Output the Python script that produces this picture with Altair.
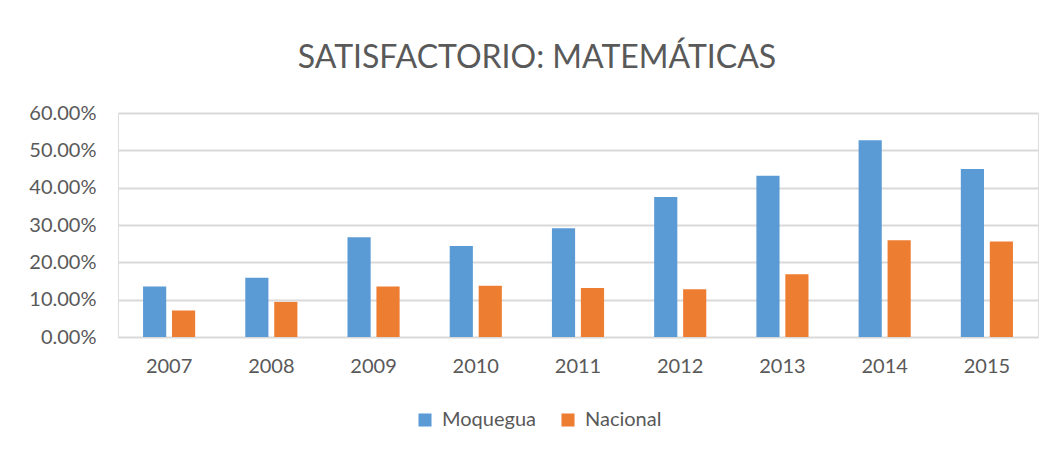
import altair as alt
import pandas as pd

years = ["2007", "2008", "2009", "2010", "2011", "2012", "2013", "2014", "2015"]
moquegua = [0.135, 0.159, 0.267, 0.244, 0.291, 0.375, 0.432, 0.527, 0.450]
nacional = [0.071, 0.094, 0.135, 0.137, 0.131, 0.128, 0.168, 0.259, 0.256]
series = ["Moquegua", "Nacional"]
colors = ["#5B9BD5", "#ED7D31"]
y_ticks = [0, 0.1, 0.2, 0.3, 0.4, 0.5, 0.6]

rows = []
for i, yr in enumerate(years):
    rows.append({"year": yr, "serie": series[0], "value": moquegua[i]})
    rows.append({"year": yr, "serie": series[1], "value": nacional[i]})
df = pd.DataFrame(rows)

FONT = "Lato"
TXT = "#595959"

chart = alt.Chart(df).mark_bar().encode(
    x=alt.X("year:N", sort=years, title=None,
            scale=alt.Scale(paddingInner=0.49, paddingOuter=0.245),
            axis=alt.Axis(labelAngle=0, ticks=False, domain=False,
                          labelFontSize=20, labelColor=TXT, labelFont=FONT,
                          labelPadding=19)),
    xOffset=alt.XOffset("serie:N", sort=series,
                        scale=alt.Scale(paddingInner=0.2, paddingOuter=0)),
    y=alt.Y("value:Q", title=None,
            scale=alt.Scale(domain=[0, 0.6], nice=False),
            axis=alt.Axis(values=y_ticks, format=".2%", ticks=False, domain=False,
                          labelFontSize=20, labelColor=TXT, labelFont=FONT,
                          labelPadding=22, gridColor="#D9D9D9", gridWidth=2)),
    color=alt.Color("serie:N", sort=series,
                    scale=alt.Scale(domain=series, range=colors),
                    legend=alt.Legend(title=None, orient="none", direction="horizontal",
                                      legendX=297, legendY=297,
                                      symbolType="square", symbolSize=170,
                                      symbolStrokeWidth=0, symbolOpacity=1,
                                      labelFontSize=20, labelColor=TXT, labelFont=FONT,
                                      columnPadding=22, labelOffset=7)),
).properties(
    width=920,
    height=224,
    title=alt.TitleParams("SATISFACTORIO: MATEMÁTICAS", fontSize=32, font=FONT,
                          fontWeight="normal", color=TXT, anchor="middle",
                          dx=-41, offset=28),
    autosize=alt.AutoSizeParams(type="none"),
    padding={"left": 110, "top": 105, "right": 8, "bottom": 108},
).configure_view(stroke=None).configure(background="white")

chart.save("out.html", embed_options={"renderer": "svg", "actions": False})
